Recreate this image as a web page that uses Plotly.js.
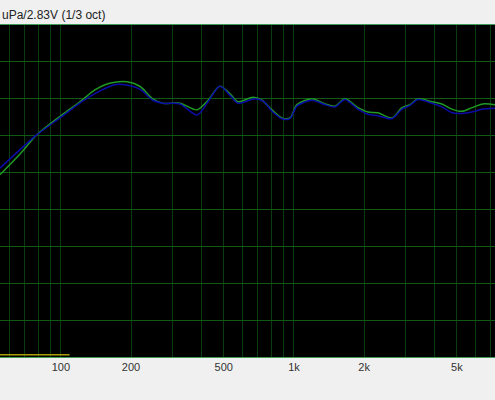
<!DOCTYPE html>
<html>
<head>
<meta charset="utf-8">
<script src="https://cdn.plot.ly/plotly-3.0.1.min.js"></script>
<style>
  html, body { margin:0; padding:0; background:#f0f0f0; }
  #chart { width:495px; height:400px; }
</style>
</head>
<body>
<div id="chart"></div>
<script>
// response curves (Hz / dB)
const freqGreen = [54.8, 66.8, 78.7, 100, 123, 140, 162, 192, 218, 248, 274, 324, 384, 428, 481, 531, 575, 667, 729, 805, 888, 961, 1030, 1195, 1359, 1500, 1655, 1882, 2078, 2294, 2634, 2908, 3147, 3406, 3911, 4318, 4766, 5260, 5807, 6475, 7290];
const splGreen  = [74.7, 77.5, 80.1, 82.7, 84.8, 86.2, 87.1, 87.3, 86.7, 85.0, 84.4, 84.4, 83.5, 84.8, 86.7, 85.7, 84.6, 85.2, 84.8, 83.5, 82.4, 82.4, 84.2, 85.0, 84.3, 84.0, 85.0, 83.8, 83.2, 83.1, 82.4, 83.8, 84.2, 85.0, 84.6, 84.3, 83.6, 83.3, 83.8, 84.3, 84.2];

const freqBlue = [54.8, 66.8, 78.7, 100, 123, 140, 170, 188, 218, 248, 274, 324, 384, 428, 481, 531, 575, 680, 743, 805, 888, 961, 1030, 1195, 1359, 1500, 1655, 1882, 2078, 2294, 2634, 2908, 3147, 3406, 3911, 4318, 4766, 5260, 5807, 6475, 7290];
const splBlue  = [75.6, 78.1, 80.1, 82.5, 84.6, 85.7, 86.9, 86.9, 86.3, 84.8, 84.4, 84.3, 82.8, 84.6, 86.7, 85.5, 84.4, 85.0, 84.6, 83.3, 82.3, 82.3, 84.0, 84.8, 84.2, 83.9, 84.9, 83.6, 82.9, 82.7, 82.3, 83.6, 84.1, 84.9, 84.4, 83.9, 83.1, 83.0, 83.2, 83.6, 83.7];

const freqYellow = [54.8, 109];
const splYellow  = [50.3, 50.3];

// every grid frequency; only some carry a label
const gridVals = [60, 70, 80, 90, 100, 200, 300, 400, 500, 600, 700, 800, 900, 1000, 2000, 3000, 4000, 5000, 6000, 7000];
const labelOf = {100:'100', 200:'200', 500:'500', 1000:'1k', 2000:'2k', 5000:'5k'};
const gridText = gridVals.map(v=>labelOf[v] || '');
const decadeVals = [100, 1000];
const yMin = 50, yMax = 95;

const traces = [
  {x:freqYellow, y:splYellow, mode:'lines', line:{color:'#a89f00', width:1.6}, hoverinfo:'skip'},
  {x:freqGreen, y:splGreen, mode:'lines', line:{color:'#1f9a24', width:1.5, shape:'spline', smoothing:0.8}},
  {x:freqBlue, y:splBlue, mode:'lines', line:{color:'#0c0ca8', width:1.5, shape:'spline', smoothing:0.8}}
];

// brighter grid at each decade (log axis -> shape x is log10)
const shapes = decadeVals.map(v=>({
  type:'line', xref:'x', yref:'y', x0:Math.log10(v), x1:Math.log10(v), y0:yMin, y1:yMax,
  line:{color:'#1b7029', width:1}, layer:'below'
}));

const layout = {
  width:495, height:400,
  margin:{l:0, r:0, t:25, b:43},
  paper_bgcolor:'#f0f0f0',
  plot_bgcolor:'#000000',
  showlegend:false,
  font:{family:'"Liberation Sans", Arial, sans-serif', size:11, color:'#333'},
  xaxis:{
    type:'log', range:[Math.log10(54.8), Math.log10(7290)],
    tickmode:'array', tickvals:gridVals, ticktext:gridText,
    showgrid:true, gridcolor:'#0b3d0f', gridwidth:1,
    showline:true, mirror:true, linecolor:'#3f9a55', linewidth:1,
    zeroline:false, ticks:'', fixedrange:true
  },
  yaxis:{
    range:[yMin, yMax], dtick:5, showticklabels:false,
    showgrid:true, gridcolor:'#115a14', gridwidth:1,
    zeroline:false, showline:false, ticks:'', fixedrange:true
  },
  shapes:shapes,
  annotations:[{
    text:'uPa/2.83V (1/3 oct)', xref:'paper', yref:'paper', x:0, y:1,
    xanchor:'left', yanchor:'bottom', yshift:1, showarrow:false,
    font:{size:12, color:'#222'}
  }]
};

Plotly.newPlot('chart', traces, layout, {displayModeBar:false, staticPlot:true});
</script>
</body>
</html>
